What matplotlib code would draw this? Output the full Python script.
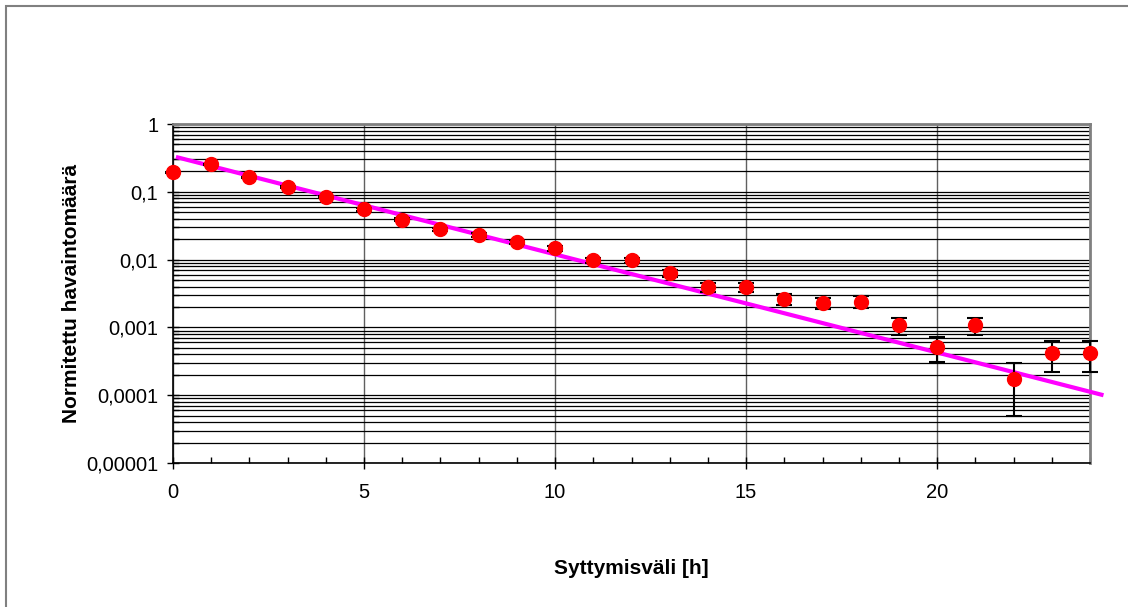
import matplotlib.pyplot as plt
import numpy as np
from matplotlib.ticker import FixedLocator, NullFormatter
from matplotlib.patches import Rectangle

plt.rcParams['font.family'] = ['Liberation Sans', 'DejaVu Sans']

# normalized number of observations per ignition interval (hours)
hours = list(range(25))
norm_count = [0.195, 0.256, 0.164, 0.117, 0.083, 0.055, 0.039, 0.028, 0.023, 0.018,
              0.0147, 0.0098, 0.0098, 0.0063, 0.0039, 0.0039, 0.0026, 0.0023, 0.0024,
              0.00107, 0.00052, 0.00107, 0.000175, 0.00042, 0.00042]
err = [0.004, 0.005, 0.004, 0.003, 0.0027, 0.0022, 0.0019, 0.0016, 0.0014, 0.0013,
       0.0011, 0.0009, 0.0009, 0.0007, 0.0006, 0.0006, 0.00048, 0.00045, 0.00046,
       0.0003, 0.00021, 0.0003, 0.000125, 0.0002, 0.0002]

# exponential fit: y = A * exp(-x / tau)
fit_A = 0.335
fit_tau = 3.0
fit_x = [0.13, 24.3]

fig = plt.figure(figsize=(11.28, 6.07), dpi=100)
fig.patches.append(Rectangle((6 / 1128, -0.05), 1.1, 1 - 6 / 607 + 0.05,
                             transform=fig.transFigure, fill=False,
                             edgecolor='#808080', linewidth=1.5))
ax = fig.add_axes([173 / 1128, 1 - 463 / 607, (1090 - 173) / 1128, (463 - 124) / 607])

ax.set_yscale('log')
ax.set_ylim(1e-5, 1)
ax.set_xlim(0, 24)

# horizontal grid at every minor decade step, vertical grid every 5 h
ax.yaxis.set_major_locator(FixedLocator([1e-5, 1e-4, 1e-3, 1e-2, 1e-1, 1]))
minors = [m * 10.0 ** e for e in range(-5, 0) for m in range(2, 10)]
ax.yaxis.set_minor_locator(FixedLocator(minors))
ax.yaxis.set_minor_formatter(NullFormatter())
ax.set_yticklabels(['0,00001', '0,0001', '0,001', '0,01', '0,1', '1'])
ax.set_xticks([0, 5, 10, 15, 20])
ax.set_xticks(range(25), minor=True)
ax.grid(True, which='both', axis='y', color='black', linewidth=0.9)
ax.grid(True, which='major', axis='x', color='#606060', linewidth=1.0)
ax.set_axisbelow(True)

ax.tick_params(axis='both', which='major', direction='inout', length=9, width=1,
               labelsize=14.5, pad=4)
ax.tick_params(axis='both', which='minor', direction='in', length=4, width=1)
ax.tick_params(axis='x', which='major', pad=10)
ax.tick_params(axis='y', which='major', pad=6)

for s in ['left', 'bottom']:
    ax.spines[s].set_color('black')
    ax.spines[s].set_linewidth(1.2)
for s in ['top', 'right']:
    ax.spines[s].set_color('#808080')
    ax.spines[s].set_linewidth(2)

fx = np.linspace(fit_x[0], fit_x[1], 50)
ax.plot(fx, fit_A * np.exp(-fx / fit_tau), color='#ff00ff', linewidth=3,
        clip_on=False, zorder=3)

ax.errorbar(hours, norm_count, yerr=err, fmt='o', color='red', markersize=10,
            ecolor='black', elinewidth=1.5, capsize=6, capthick=1.5, zorder=4,
            clip_on=False)

ax.set_ylabel('Normitettu havaintomäärä', fontsize=15, fontweight='bold', labelpad=4)
ax.set_xlabel('Syttymisväli [h]', fontsize=15, fontweight='bold', labelpad=41)

fig.savefig('out.png', dpi=100)
